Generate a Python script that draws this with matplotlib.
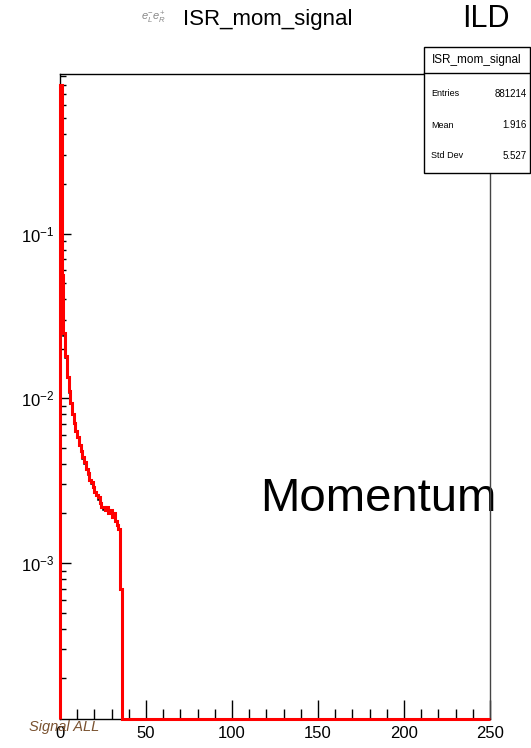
import numpy as np
import matplotlib
matplotlib.use("Agg")
import matplotlib.pyplot as plt
from matplotlib.patches import Rectangle
from matplotlib.lines import Line2D
from matplotlib.ticker import LogLocator, MultipleLocator, NullFormatter

plt.rcParams['font.family'] = ['Liberation Sans', 'DejaVu Sans']
plt.rcParams['mathtext.fontset'] = 'custom'
plt.rcParams['mathtext.rm'] = 'Liberation Sans'
plt.rcParams['mathtext.it'] = 'Liberation Sans:italic'

# histogram data, 1 GeV bins from 0 to 250 (normalised), bins above 35 are empty
n_bins = 250
x_min, x_max = 0, 250
signal_head = [0.80, 0.056, 0.025, 0.018, 0.0135, 0.0110, 0.0094, 0.0080, 0.0071, 0.0063,
               0.0058, 0.0052, 0.0048, 0.0044, 0.0041, 0.0037, 0.0035, 0.0032, 0.0031, 0.0029,
               0.0027, 0.0026, 0.0025, 0.0023, 0.0022, 0.0022, 0.0021, 0.0022, 0.0020, 0.0021,
               0.0019, 0.0020, 0.0018, 0.0017, 0.0016, 0.0007]
ref_head = [0.80, 0.050, 0.024, 0.0175, 0.0132, 0.0108, 0.0092, 0.0079, 0.0070, 0.0062,
            0.0057, 0.0051, 0.0047, 0.0043, 0.0040, 0.0037, 0.0034, 0.0032, 0.0030, 0.0029,
            0.0027, 0.0026, 0.0024, 0.0023, 0.0022, 0.0021, 0.0021, 0.0021, 0.0020, 0.0020,
            0.0019, 0.0019, 0.0018, 0.0018, 0.0016, 0.0007]

stats_labels = ["Entries", "Mean", "Std Dev"]
stats_values = ["881214", "1.916", "5.527"]

signal = np.zeros(n_bins)
signal[:len(signal_head)] = signal_head
ref = np.zeros(n_bins)
ref[:len(ref_head)] = ref_head
edges = np.linspace(x_min, x_max, n_bins + 1)

y_lo, y_hi = 1.13e-4, 0.93

W, H = 531, 748
fig = plt.figure(figsize=(W / 100, H / 100), dpi=100)
ax = fig.add_axes([60 / W, 1 - 719 / H, 430 / W, 645 / H])

# zero bins sit on the bottom of the frame, like ROOT does on a log axis
ax.stairs(np.where(ref > 0, ref, y_lo), edges, baseline=y_lo, color='black', lw=1.1, clip_on=False, zorder=3)
ax.stairs(np.where(signal > 0, signal, y_lo), edges, baseline=y_lo, color='red', lw=2.2, clip_on=False, zorder=4)

ax.set_yscale('log')
ax.set_xlim(x_min, x_max)
ax.set_ylim(y_lo, y_hi)
ax.yaxis.set_major_locator(LogLocator(base=10, numticks=10))
ax.yaxis.set_minor_locator(LogLocator(base=10, subs=np.arange(2, 10), numticks=20))
ax.yaxis.set_minor_formatter(NullFormatter())
ax.xaxis.set_major_locator(MultipleLocator(50))
ax.xaxis.set_minor_locator(MultipleLocator(10))

ax.tick_params(axis='y', which='major', direction='in', length=8, width=1, labelsize=12, pad=4)
ax.tick_params(axis='y', which='minor', direction='in', length=4, width=1)
ax.tick_params(axis='x', which='major', direction='in', length=14, width=1, labelsize=12, pad=5)
ax.tick_params(axis='x', which='minor', direction='in', length=7, width=1)
for s in ax.spines.values():
    s.set_linewidth(1)
ax.spines['right'].set_color('#444444')

# big label inside the frame, right spine drawn over it
ax.text(260 / W, 1 - 511 / H, "Momentum", transform=fig.transFigure, fontsize=34,
        va='baseline', ha='left', zorder=1, clip_on=False)

# title, polarisation tag and ILD
fig.text(268 / W, 1 - 19 / H, "ISR_mom_signal", fontsize=16, ha='center', va='center')
fig.text(154 / W, 1 - 18 / H, r"$e^{-}_{L}e^{+}_{R}$", fontsize=8, color='#888888', ha='center', va='center')
fig.text(486 / W, 1 - 19 / H, "ILD", fontsize=22, ha='center', va='center')
fig.text(64 / W, 1 - 727 / H, "Signal ALL", fontsize=10.5, style='italic', color='#7a5230',
         ha='center', va='center', zorder=5)

# stats box
bx0, bx1, by0, by1, bsep = 424, 530, 47, 173, 73
fig.add_artist(Rectangle((bx0 / W, 1 - by1 / H), (bx1 - bx0) / W, (by1 - by0) / H,
                         transform=fig.transFigure, facecolor='white', edgecolor='black', lw=1, zorder=6))
fig.add_artist(Line2D([bx0 / W, bx1 / W], [1 - bsep / H, 1 - bsep / H], transform=fig.transFigure,
                      color='black', lw=1, zorder=7))
fig.text((bx0 + bx1) / 2 / W, 1 - 60 / H, "ISR_mom_signal", fontsize=8.5, ha='center', va='center', zorder=8)
for i, (lab, val) in enumerate(zip(stats_labels, stats_values)):
    yy = 1 - (94 + 31 * i) / H
    fig.text(431 / W, yy, lab, fontsize=6.5, ha='left', va='center', zorder=8)
    fig.text(527 / W, yy, val, fontsize=7, ha='right', va='center', zorder=8)

fig.savefig("out.png", dpi=100)
